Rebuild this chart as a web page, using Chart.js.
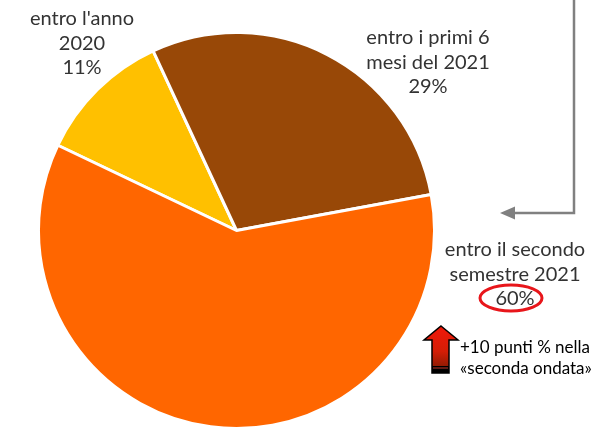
<!DOCTYPE html>
<html lang="it">
<head>
<meta charset="utf-8">
<title>Tempistiche</title>
<script src="https://cdn.jsdelivr.net/npm/chart.js@4.4.0/dist/chart.umd.min.js"></script>
<style>
  html, body { margin: 0; padding: 0; background: #fff; }
  #wrap { width: 612px; height: 431px; position: relative; }
</style>
</head>
<body>
<div id="wrap"><canvas id="pie" width="612" height="431"></canvas></div>
<script>
'use strict';

/* dati */
const CATEGORIES = ["entro l'anno 2020", 'entro i primi 6 mesi del 2021', 'entro il secondo semestre 2021'];
const VALUES = [11, 29, 60];
const COLORS = ['#FFC000', '#984807', '#FF6600'];
const LABEL_LINES = [
  ["entro l'anno", '2020'],
  ['entro i primi 6', 'mesi del 2021'],
  ['entro il secondo', 'semestre 2021'],
];
const NOTE_LINES = ['+10 punti % nella', '«seconda ondata»'];

const TEXT_COLOR = '#333333';
const FONT = 'Lato, "Open Sans", sans-serif';

/* posizioni delle etichette (centro della prima riga) */
const LABEL_POS = [[82, 19], [428, 38], [515, 250]];

/* etichette, cerchio rosso, frecce */
const annotations = {
  id: 'annotations',
  afterDraw(chart) {
    const ctx = chart.ctx;
    ctx.save();
    ctx.textAlign = 'center';
    ctx.textBaseline = 'middle';
    ctx.fillStyle = TEXT_COLOR;
    ctx.font = '20px ' + FONT;
    LABEL_LINES.forEach((lines, i) => {
      const [x, y] = LABEL_POS[i];
      const all = lines.concat([VALUES[i] + '%']);
      all.forEach((t, k) => ctx.fillText(t, x, y + k * 24.5));
    });

    /* ellisse rossa attorno a 60% */
    ctx.strokeStyle = '#E8161B';
    ctx.lineWidth = 3;
    ctx.beginPath();
    ctx.ellipse(511, 298, 31, 13, 0, 0, Math.PI * 2);
    ctx.stroke();

    /* linea grigia con freccia */
    ctx.strokeStyle = '#808080';
    ctx.fillStyle = '#808080';
    ctx.lineWidth = 2.5;
    ctx.beginPath();
    ctx.moveTo(574, 0);
    ctx.lineTo(574, 213);
    ctx.lineTo(512, 213);
    ctx.stroke();
    ctx.beginPath();
    ctx.moveTo(500, 213);
    ctx.lineTo(515, 206.5);
    ctx.lineTo(515, 219.5);
    ctx.closePath();
    ctx.fill();

    /* freccia rossa verso l'alto */
    const g = ctx.createLinearGradient(0, 326, 0, 372);
    g.addColorStop(0, '#F2180A');
    g.addColorStop(0.55, '#D41E06');
    g.addColorStop(1, '#7A1A02');
    ctx.fillStyle = g;
    ctx.strokeStyle = '#000';
    ctx.lineWidth = 1.5;
    ctx.beginPath();
    ctx.moveTo(441, 326);
    ctx.lineTo(458, 340);
    ctx.lineTo(449, 340);
    ctx.lineTo(449, 373);
    ctx.lineTo(432, 373);
    ctx.lineTo(432, 340);
    ctx.lineTo(424, 340);
    ctx.closePath();
    ctx.fill();
    ctx.stroke();
    ctx.fillStyle = '#000';
    ctx.fillRect(432, 366, 17, 7);
    ctx.fillStyle = '#C0392B';
    ctx.fillRect(433, 367.5, 15, 1);

    ctx.textAlign = 'left';
    ctx.fillStyle = '#000';
    ctx.font = '17px ' + FONT;
    NOTE_LINES.forEach((t, k) => ctx.fillText(t, 460, 348 + k * 21));
    ctx.restore();
  },
};

new Chart(document.getElementById('pie'), {
  type: 'pie',
  data: {
    labels: CATEGORIES,
    datasets: [{
      data: VALUES,
      backgroundColor: COLORS,
      borderColor: '#ffffff',
      borderWidth: 3,
    }],
  },
  options: {
    responsive: false,
    animation: false,
    rotation: -64.5,
    layout: { padding: { left: 36, right: 175, top: 31, bottom: 1 } },
    plugins: {
      legend: { display: false },
      tooltip: { enabled: false },
    },
  },
  plugins: [annotations],
});
</script>
</body>
</html>
